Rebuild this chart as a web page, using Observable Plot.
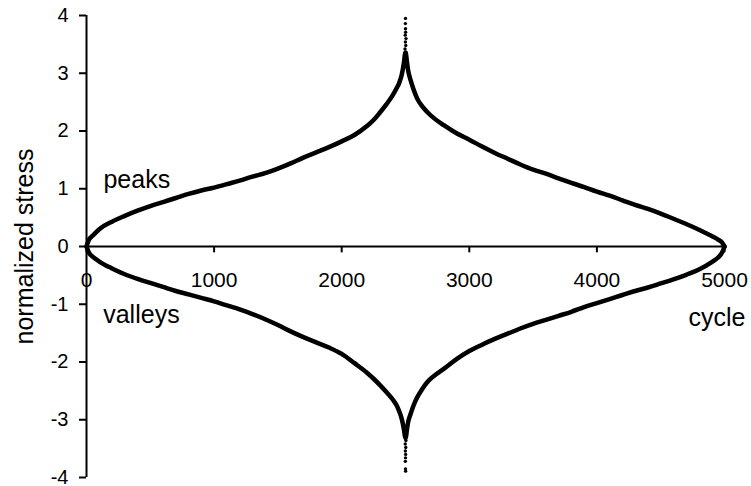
<!DOCTYPE html>
<html>
<head>
<meta charset="utf-8">
<script src="https://cdn.jsdelivr.net/npm/d3@7"></script>
<script src="https://cdn.jsdelivr.net/npm/@observablehq/plot@0.6"></script>
<style>
  html, body { margin: 0; padding: 0; background: #fff; }
</style>
</head>
<body>
<div id="chart"></div>
<script>
// Sorted peaks (upper branch) and valleys (lower branch) of the normalized stress history
const peakCycle = [0, 20, 50, 100, 200, 300, 400, 500, 600, 700, 800, 900, 1000, 1100, 1200, 1300, 1400, 1500, 1600, 1700, 1800, 1900, 2000, 2100, 2200, 2250, 2300, 2350, 2400, 2430, 2450, 2470, 2480, 2490, 2495, 2500,
  2505, 2510, 2520, 2540, 2560, 2590, 2630, 2670, 2730, 2800, 2900, 3000, 3100, 3200, 3300, 3400, 3500, 3600, 3700, 3800, 3900, 4000, 4100, 4200, 4300, 4400, 4500, 4600, 4700, 4800, 4900, 4950, 4980, 5000];
const peakValue = [0, 0.12, 0.19, 0.30, 0.43, 0.53, 0.62, 0.70, 0.77, 0.84, 0.91, 0.97, 1.02, 1.08, 1.14, 1.21, 1.27, 1.35, 1.44, 1.54, 1.63, 1.72, 1.82, 1.93, 2.09, 2.19, 2.32, 2.46, 2.62, 2.74, 2.83, 2.97, 3.08, 3.22, 3.32, 3.36,
  3.32, 3.22, 3.06, 2.88, 2.74, 2.57, 2.43, 2.33, 2.21, 2.10, 1.96, 1.85, 1.73, 1.62, 1.52, 1.42, 1.33, 1.26, 1.18, 1.10, 1.03, 0.95, 0.88, 0.80, 0.72, 0.65, 0.57, 0.48, 0.39, 0.29, 0.18, 0.12, 0.07, 0];

const valleyCycle = [0, 20, 50, 100, 200, 300, 400, 500, 600, 700, 800, 900, 1000, 1100, 1200, 1300, 1400, 1500, 1600, 1700, 1800, 1900, 2000, 2100, 2200, 2250, 2300, 2350, 2400, 2430, 2450, 2470, 2480, 2490, 2495, 2500,
  2505, 2510, 2520, 2540, 2560, 2590, 2630, 2670, 2730, 2800, 2900, 3000, 3100, 3200, 3300, 3400, 3500, 3600, 3700, 3800, 3900, 4000, 4100, 4200, 4300, 4400, 4500, 4600, 4700, 4800, 4900, 4950, 4980, 5000];
const valleyValue = [0, -0.11, -0.18, -0.26, -0.38, -0.48, -0.56, -0.63, -0.70, -0.77, -0.83, -0.89, -0.95, -1.02, -1.09, -1.17, -1.26, -1.36, -1.47, -1.57, -1.66, -1.75, -1.86, -2.02, -2.19, -2.29, -2.40, -2.52, -2.65, -2.75, -2.85, -2.98, -3.08, -3.20, -3.28, -3.32,
  -3.28, -3.19, -3.05, -2.90, -2.77, -2.62, -2.47, -2.35, -2.23, -2.12, -1.95, -1.81, -1.70, -1.60, -1.51, -1.42, -1.34, -1.27, -1.20, -1.13, -1.05, -0.98, -0.91, -0.84, -0.77, -0.71, -0.64, -0.57, -0.49, -0.40, -0.27, -0.19, -0.11, 0];

// The few most extreme cycles, scattered as separate points at the tips
const peakTipCycle = [2497, 2503, 2496, 2502, 2499, 2504, 2498, 2501, 2500, 2499, 2500];
const peakTipValue = [3.31, 3.36, 3.42, 3.48, 3.54, 3.60, 3.66, 3.71, 3.77, 3.86, 3.95];
const valleyTipCycle = [2497, 2503, 2498, 2502, 2499, 2501, 2500, 2499, 2500, 2501];
const valleyTipValue = [-3.30, -3.36, -3.42, -3.48, -3.54, -3.60, -3.66, -3.72, -3.85, -3.89];

const xTicks = [0, 1000, 2000, 3000, 4000, 5000];
const yTicks = [-4, -3, -2, -1, 0, 1, 2, 3, 4];

const peaks = peakCycle.map((c, i) => ({cycle: c, stress: peakValue[i]}));
const valleys = valleyCycle.map((c, i) => ({cycle: c, stress: valleyValue[i]}));
const tips = [
  ...peakTipCycle.map((c, i) => ({cycle: c, stress: peakTipValue[i]})),
  ...valleyTipCycle.map((c, i) => ({cycle: c, stress: valleyTipValue[i]}))
];

const font = "'Liberation Sans', Arial, Helvetica, sans-serif";

const chart = Plot.plot({
  width: 751,
  height: 486,
  marginLeft: 86,
  marginRight: 27,
  marginTop: 15,
  marginBottom: 9,
  style: {fontFamily: font, fontSize: "21px", color: "#000", background: "#fff", overflow: "visible"},
  x: {domain: [0, 5000], axis: null},
  y: {domain: [-4, 4], axis: null},
  marks: [
    // vertical axis with outward ticks
    Plot.axisY(yTicks, {anchor: "left", tickSize: 7, tickPadding: 11, strokeWidth: 2, fontSize: 20, tickFormat: (d) => String(d), label: null}),
    Plot.ruleX([0], {y1: -4, y2: 4, stroke: "#000", strokeWidth: 2}),
    // horizontal axis drawn through stress = 0
    Plot.ruleY([0], {x1: 0, x2: 5000, stroke: "#000", strokeWidth: 2}),
    Plot.ruleX(xTicks, {x: (d) => d, y1: 0, y2: -0.11, stroke: "#000", strokeWidth: 2}),
    Plot.text(xTicks, {x: (d) => d, y: 0, text: (d) => String(d), dy: 40, lineAnchor: "bottom", fontSize: 21}),
    // sorted peak and valley curves
    Plot.line(peaks, {x: "cycle", y: "stress", stroke: "#000", strokeWidth: 4.5, curve: "monotone-x", strokeLinecap: "round"}),
    Plot.line(valleys, {x: "cycle", y: "stress", stroke: "#000", strokeWidth: 4.5, curve: "monotone-x", strokeLinecap: "round"}),
    Plot.dot(tips, {x: "cycle", y: "stress", r: 1.7, fill: "#000", stroke: null}),
    // annotations
    Plot.text(["peaks"], {x: 133, y: 1.02, text: (d) => d, textAnchor: "start", lineAnchor: "bottom", fontSize: 25}),
    Plot.text(["valleys"], {x: 131, y: -1.33, text: (d) => d, textAnchor: "start", lineAnchor: "bottom", fontSize: 25}),
    Plot.text(["cycle"], {x: 5164, y: -1.37, text: (d) => d, textAnchor: "end", lineAnchor: "bottom", fontSize: 25}),
    Plot.text(["normalized stress"], {frameAnchor: "left", text: (d) => d, rotate: -90, dx: -54, textAnchor: "middle", lineAnchor: "bottom", fontSize: 25})
  ]
});

document.getElementById("chart").appendChild(chart);
</script>
</body>
</html>
